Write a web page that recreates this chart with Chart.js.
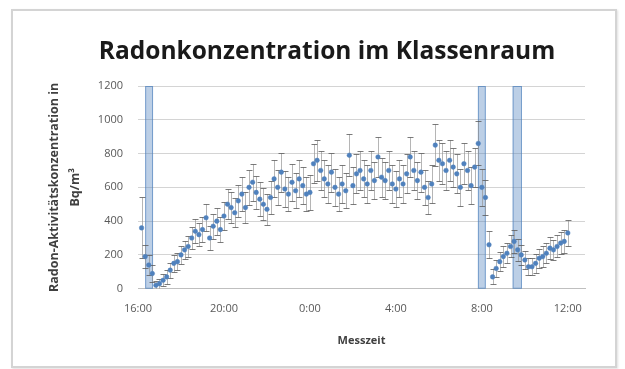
<!DOCTYPE html>
<html lang="de">
<head>
<meta charset="UTF-8">
<title>Radonkonzentration im Klassenraum</title>
<script src="https://cdn.jsdelivr.net/npm/chart.js"></script>
<style>
  html, body { margin: 0; padding: 0; background: #fff; }
  .frame {
    position: absolute; left: 11px; top: 9px; width: 602px; height: 355px;
    border: 2px solid #d4d4d4;
    box-shadow: 1px 1px 2px rgba(0, 0, 0, 0.12);
  }
  #radonChart { position: absolute; left: 0; top: 0; }
</style>
</head>
<body>
<div class="frame"></div>
<canvas id="radonChart" width="625" height="369"></canvas>
<script>
// Messreihe: alle 10 Minuten ab 16:10 bis 12:00 am nächsten Tag
const firstSample = '16:10';
const sampleStepMin = 10;

// Radon-Aktivitätskonzentration in Bq/m³ (eine Zeile = eine Stunde)
const radon = [
  360, 190, 140,  90,  20,  30,
   50,  70, 110, 150, 160, 200,
  230, 250, 300, 340, 320, 350,
  420, 300, 370, 400, 350, 430,
  500, 480, 450, 520, 560, 480,
  600, 630, 570, 530, 500, 470,
  540, 650, 600, 690, 590, 560,
  630, 580, 650, 610, 560, 570,
  740, 760, 700, 650, 620, 690,
  600, 560, 620, 580, 790, 610,
  680, 700, 650, 620, 700, 640,
  780, 660, 640, 700, 620, 590,
  650, 620, 680, 780, 700, 640,
  690, 600, 540, 620, 850, 760,
  740, 700, 760, 720, 680, 600,
  740, 700, 610, 720, 860, 600,
  540, 260,  70, 120, 160, 190,
  210, 250, 280, 230, 200, 170,
  130, 130, 150, 180, 190, 210,
  240, 230, 250, 270, 280, 330
];

// Messunsicherheit (±) je Messwert
const radonErr = [
  180,  70,  60,  50,  25,  30,
   35,  40,  45,  50,  50,  55,
   55,  60,  65,  70,  70,  75,
   80,  70,  75,  80,  75,  85,
   90,  90,  85,  95, 100,  90,
  105, 110, 100, 100,  95,  90,
  100, 110, 105, 115, 105, 100,
  110, 105, 110, 110, 100, 105,
  115, 120, 115, 110, 110, 115,
  110, 100, 110, 105, 125, 110,
  115, 115, 110, 110, 115, 110,
  120, 115, 110, 115, 110, 105,
  110, 110, 115, 120, 115, 110,
  115, 105, 100, 110, 125, 120,
  120, 115, 120, 115, 115, 110,
  120, 115, 110, 115, 130, 110,
  105,  80,  45,  50,  55,  60,
   60,  65,  70,  65,  60,  55,
   50,  50,  55,  55,  60,  60,
   65,  60,  65,  65,  70,  75
];

// Lüftungsphasen (Fenster offen)
const ventBands = [['16:20', '16:42'], ['7:49', '8:11'], ['9:26', '9:52']];

const chartTitle = 'Radonkonzentration im Klassenraum';
const timeTickLabels = ['16:00', '20:00', '0:00', '4:00', '8:00', '12:00'];
const yTickMax = 1200;
const yTickStep = 200;

// Uhrzeit -> Stunden seit 16:00
function toHours(clock) {
  const [h, m] = clock.split(':').map(Number);
  let t = h + m / 60 - 16;
  if (t < 0) t += 24;
  return t;
}

const t0 = toHours(firstSample);
const points = radon.map((v, i) => ({ x: t0 + i * sampleStepMin / 60, y: v }));
const tickValues = timeTickLabels.map(toHours);

const font = 'Open Sans, sans-serif';

const bandPlugin = {
  id: 'ventBands',
  beforeDatasetsDraw(chart) {
    const { ctx, chartArea: a, scales: { x } } = chart;
    ctx.save();
    ventBands.forEach(([from, to]) => {
      const x0 = x.getPixelForValue(toHours(from));
      const x1 = x.getPixelForValue(toHours(to));
      ctx.fillStyle = 'rgba(79, 129, 189, 0.38)';
      ctx.fillRect(x0, a.top, x1 - x0, a.bottom - a.top);
      ctx.strokeStyle = 'rgba(79, 129, 189, 0.65)';
      ctx.lineWidth = 1;
      ctx.strokeRect(x0 + 0.5, a.top + 0.5, x1 - x0 - 1, a.bottom - a.top - 1);
    });
    ctx.restore();
  }
};

const errorBarPlugin = {
  id: 'errorBars',
  beforeDatasetsDraw(chart) {
    const { ctx, chartArea: a, scales: { x, y } } = chart;
    ctx.save();
    ctx.beginPath();
    ctx.rect(a.left, a.top, a.right - a.left, a.bottom - a.top);
    ctx.clip();
    ctx.lineWidth = 1;
    points.forEach((p, i) => {
      const px = Math.round(x.getPixelForValue(p.x)) + 0.5;
      const hi = Math.round(y.getPixelForValue(p.y + radonErr[i])) + 0.5;
      const lo = Math.round(y.getPixelForValue(p.y - radonErr[i])) + 0.5;
      ctx.strokeStyle = 'rgba(150, 150, 150, 0.7)';
      ctx.beginPath();
      ctx.moveTo(px, hi); ctx.lineTo(px, lo);
      ctx.stroke();
      ctx.strokeStyle = 'rgba(90, 90, 90, 0.8)';
      ctx.beginPath();
      ctx.moveTo(px - 3, hi); ctx.lineTo(px + 3, hi);
      ctx.moveTo(px - 3, lo); ctx.lineTo(px + 3, lo);
      ctx.stroke();
    });
    ctx.restore();
  }
};

// Diagrammtitel über der ganzen Grafik zentriert (nicht nur über der Plotfläche)
const titlePlugin = {
  id: 'frameTitle',
  afterDraw(chart) {
    const { ctx } = chart;
    ctx.save();
    ctx.font = 'bold 24.5px ' + font;
    ctx.fillStyle = '#1a1a1a';
    ctx.textAlign = 'center';
    ctx.textBaseline = 'middle';
    ctx.fillText(chartTitle, 327, 52);
    ctx.restore();
  }
};

new Chart(document.getElementById('radonChart'), {
  type: 'scatter',
  data: {
    datasets: [{
      label: 'Radon',
      data: points,
      showLine: false,
      pointRadius: 2.3,
      pointBackgroundColor: '#4f81bd',
      pointBorderColor: '#4f81bd',
      pointBorderWidth: 0.5
    }]
  },
  options: {
    responsive: false,
    animation: false,
    events: [],
    layout: { padding: { left: 40, right: 40, top: 86, bottom: 22 } },
    plugins: {
      legend: { display: false },
      tooltip: { enabled: false },
      title: { display: false }
    },
    scales: {
      x: {
        type: 'linear',
        min: 0,
        max: 20.8,
        afterBuildTicks: scale => { scale.ticks = tickValues.map(v => ({ value: v })); },
        ticks: {
          autoSkip: false,
          maxRotation: 0,
          padding: 14,
          color: '#595959',
          font: { family: font, size: 11 },
          callback: v => timeTickLabels[tickValues.indexOf(v)]
        },
        grid: { display: false, drawTicks: false },
        border: { display: true, color: '#bfbfbf' },
        title: {
          display: true,
          text: 'Messzeit',
          color: '#404040',
          font: { family: font, size: 11, weight: 'bold', lineHeight: 1.1 },
          padding: { top: 5, bottom: 0 }
        }
      },
      y: {
        min: 0,
        max: yTickMax,
        afterFit: scale => { scale.width = 98; },
        ticks: {
          stepSize: yTickStep,
          padding: 15,
          color: '#595959',
          font: { family: font, size: 11 },
          callback: v => String(v)
        },
        grid: { color: '#d4d4d4', drawTicks: false },
        border: { display: false },
        title: {
          display: true,
          text: ['Radon-Aktivitätskonzentration in', 'Bq/m³'],
          color: '#404040',
          font: { family: font, size: 12.5, weight: 'bold', lineHeight: 1.65 },
          padding: { top: 4, bottom: 0 }
        }
      }
    }
  },
  plugins: [bandPlugin, errorBarPlugin, titlePlugin]
});
</script>
</body>
</html>
